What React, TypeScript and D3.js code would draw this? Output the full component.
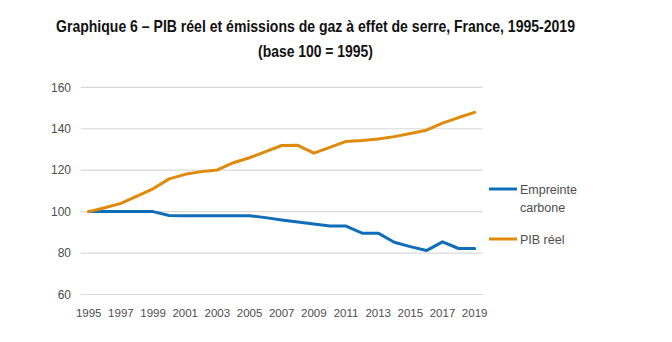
import React from "react";
import * as d3 from "d3";

const years = [1995,1996,1997,1998,1999,2000,2001,2002,2003,2004,2005,2006,2007,2008,2009,2010,2011,2012,2013,2014,2015,2016,2017,2018,2019];
const empreinte = [100,100,100,100,100,98.1,98,98,98,98,98,97.1,96,95,94,93.1,93,89.6,89.6,85.2,83.1,81.2,85.4,82.2,82.2];
const pib = [100,101.9,104,107.5,111,115.8,118,119.3,120.1,123.6,126,129,131.9,132,128.2,131,133.9,134.3,135.1,136.2,137.7,139.3,142.7,145.4,147.9];
const yTicks = [60, 80, 100, 120, 140, 160];
const xTickYears = [1995,1997,1999,2001,2003,2005,2007,2009,2011,2013,2015,2017,2019];
const seriesNames = ["Empreinte carbone", "PIB réel"];
const titleLine1 = "Graphique 6 – PIB réel et émissions de gaz à effet de serre, France, 1995-2019";
const titleLine2 = "(base 100 = 1995)";

const BLUE = "#0E6EB8";
const ORANGE = "#E08A0C";

export default function App() {
  const W = 672, H = 342;
  const x = d3.scaleBand<number>().domain(years).range([80.7, 482.7]);
  const cx = (yr: number) => (x(yr) as number) + x.bandwidth() / 2;
  const y = d3.scaleLinear().domain([60, 160]).range([294.5, 87.3]);
  const line = d3.line<number>().x((_, i) => cx(years[i])).y((v) => y(v));
  const font = "'Liberation Sans', Arial, sans-serif";
  const narrow = "'Liberation Sans Narrow', 'Arial Narrow', 'Liberation Sans', Arial, sans-serif";

  return (
    <svg width={W} height={H} style={{ position: "absolute", left: 0, top: 0, background: "#fff" }}>
      <rect width={W} height={H} fill="#fff" />
      <text x={315.5} y={32} textAnchor="middle" fontFamily={narrow} fontWeight="bold" fontSize={16.5} fill="#111" textLength={519} lengthAdjust="spacingAndGlyphs">{titleLine1}</text>
      <text x={315.5} y={57} textAnchor="middle" fontFamily={narrow} fontWeight="bold" fontSize={16.5} fill="#111" textLength={115} lengthAdjust="spacingAndGlyphs">{titleLine2}</text>
      {yTicks.map((t) => (
        <g key={t}>
          <line x1={80.7} x2={482.7} y1={y(t)} y2={y(t)} stroke="#d9d9d9" strokeWidth={1.2} />
          <text x={71} y={y(t) + 4.2} textAnchor="end" fontFamily={font} fontSize={12} fill="#4d4d4d">{t}</text>
        </g>
      ))}
      {xTickYears.map((yr) => (
        <text key={yr} x={cx(yr)} y={317} textAnchor="middle" fontFamily={font} fontSize={11.5} fill="#4d4d4d">{yr}</text>
      ))}
      <path d={line(empreinte) || ""} fill="none" stroke={BLUE} strokeWidth={3} strokeLinejoin="round" strokeLinecap="round" />
      <path d={line(pib) || ""} fill="none" stroke={ORANGE} strokeWidth={3} strokeLinejoin="round" strokeLinecap="round" />
      <line x1={489} x2={517} y1={189} y2={189} stroke={BLUE} strokeWidth={3} />
      <text x={520} y={194} fontFamily={font} fontSize={12.5} fill="#4d4d4d">Empreinte</text>
      <text x={520} y={212} fontFamily={font} fontSize={12.5} fill="#4d4d4d">carbone</text>
      <line x1={489} x2={517} y1={239} y2={239} stroke={ORANGE} strokeWidth={3} />
      <text x={520} y={243.5} fontFamily={font} fontSize={12.5} fill="#4d4d4d">{seriesNames[1]}</text>
    </svg>
  );
}
